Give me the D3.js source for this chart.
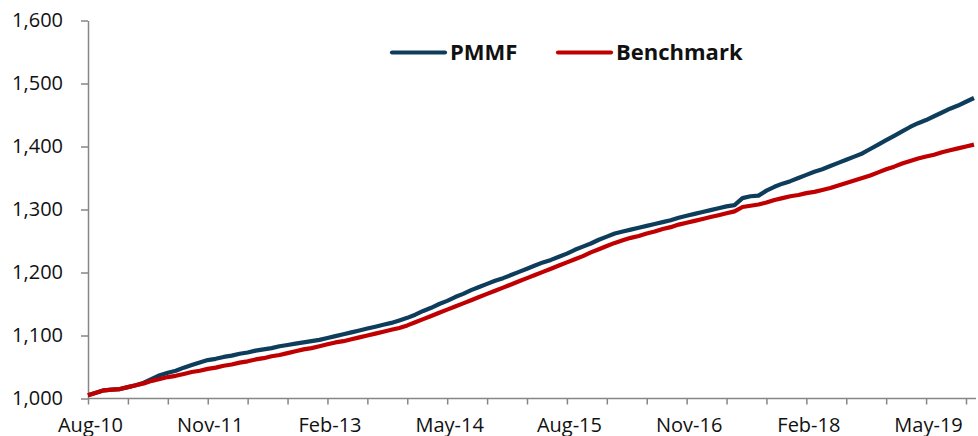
<!DOCTYPE html>
<html>
<head>
<meta charset="utf-8">
<script src="https://cdn.jsdelivr.net/npm/d3@7"></script>
<style>
  body { margin: 0; background: #fff; }
  text { font-family: "Open Sans", Lato, sans-serif; fill: #111; }
  .axis path, .axis line { stroke: #868686; stroke-width: 1.5; }
</style>
</head>
<body>
<div id="chart"></div>
<script>
// monthly index values, Aug-10 .. Nov-19
const pmmf = [
  1005, 1009, 1013, 1014, 1015, 1018, 1021, 1025, 1031, 1037,
  1041, 1044, 1049, 1053, 1057, 1061, 1063, 1066, 1068, 1071,
  1073, 1076, 1078, 1080, 1083, 1085, 1087, 1089, 1091, 1093,
  1096, 1099, 1102, 1105, 1108, 1111, 1114, 1117, 1120, 1124,
  1128, 1133, 1139, 1144, 1150, 1155, 1161, 1166, 1172, 1177,
  1182, 1187, 1191, 1196, 1201, 1206, 1211, 1216, 1220, 1225,
  1230, 1236, 1241, 1246, 1252, 1257, 1262, 1265, 1268, 1271,
  1274, 1277, 1280, 1283, 1287, 1290, 1293, 1296, 1299, 1302,
  1305, 1307, 1318, 1321, 1322, 1330, 1336, 1341, 1345, 1350,
  1355, 1360, 1364, 1369, 1374, 1379, 1384, 1389, 1396, 1403,
  1410, 1417, 1424, 1431, 1437, 1442, 1448, 1454, 1460, 1465,
  1471, 1477
];
const benchmark = [
  1005, 1009, 1013, 1014, 1015, 1018, 1021, 1024, 1028, 1031,
  1034, 1036, 1039, 1042, 1044, 1047, 1049, 1052, 1054, 1057,
  1059, 1062, 1064, 1067, 1069, 1072, 1075, 1078, 1080, 1083,
  1086, 1089, 1091, 1094, 1097, 1100, 1103, 1106, 1109, 1112,
  1116, 1121, 1126, 1131, 1136, 1141, 1146, 1151, 1156, 1161,
  1166, 1171, 1176, 1181, 1186, 1191, 1196, 1201, 1206, 1211,
  1216, 1221, 1226, 1232, 1237, 1242, 1247, 1251, 1255, 1258,
  1262, 1265, 1269, 1272, 1276, 1279, 1282, 1285, 1288, 1291,
  1294, 1297, 1304, 1306, 1308, 1311, 1315, 1318, 1321, 1323,
  1326, 1328, 1331, 1334, 1338, 1342, 1346, 1350, 1354, 1359,
  1364, 1368, 1373, 1377, 1381, 1384, 1387, 1391, 1394, 1397,
  1400, 1403
];
const yTicks = [1000, 1100, 1200, 1300, 1400, 1500, 1600];
const seriesNames = ["PMMF", "Benchmark"];
const seriesColors = ["#0e3d5c", "#c00000"];

const months = d3.range(pmmf.length).map(i => d3.timeFormat("%b-%y")(new Date(2010, 7 + i, 1)));

const width = 978, height = 436;
const svg = d3.select("#chart").append("svg")
  .attr("width", width)
  .attr("height", height);

const x = d3.scaleLinear().domain([0, 110]).range([88, 966]);
const y = d3.scaleLinear().domain([1000, 1600]).range([398.5, 20.5]);

// y axis
const yAxis = svg.append("g")
  .attr("class", "axis")
  .attr("transform", "translate(88,0)")
  .call(d3.axisLeft(y).tickValues(yTicks).tickFormat(d3.format(",")).tickSize(7).tickSizeOuter(0));
yAxis.selectAll("text").attr("x", -25).style("font-size", "20px");

// x axis
const xAxis = svg.append("g")
  .attr("class", "axis")
  .attr("transform", "translate(0,398.5)")
  .call(d3.axisBottom(x).tickValues(d3.range(0, 111, 5))
    .tickFormat(i => i % 15 === 0 ? months[i] : "")
    .tickSize(6).tickSizeOuter(0));
xAxis.select(".domain").attr("d", "M88,0H976");
xAxis.selectAll("text").attr("y", 33).attr("dy", 0).attr("dx", 2).style("font-size", "20px");

// lines
const line = d3.line().x((d, i) => x(i)).y(d => y(d));
[pmmf, benchmark].forEach((s, k) => {
  svg.append("path")
    .datum(s)
    .attr("fill", "none")
    .attr("stroke", seriesColors[k])
    .attr("stroke-width", 4.2)
    .attr("stroke-linejoin", "round")
    .attr("d", line);
});

// legend
const legendX = [392, 558];
const legend = svg.append("g");
seriesNames.forEach((name, k) => {
  legend.append("line")
    .attr("x1", legendX[k]).attr("x2", legendX[k] + 53)
    .attr("y1", 52.5).attr("y2", 52.5)
    .attr("stroke", seriesColors[k])
    .attr("stroke-width", 4.2)
    .attr("stroke-linecap", "round");
  legend.append("text")
    .attr("x", legendX[k] + 58)
    .attr("y", 52.5)
    .attr("dy", "0.36em")
    .style("font-size", "22px")
    .style("font-weight", "bold")
    .text(name);
});
</script>
</body>
</html>
